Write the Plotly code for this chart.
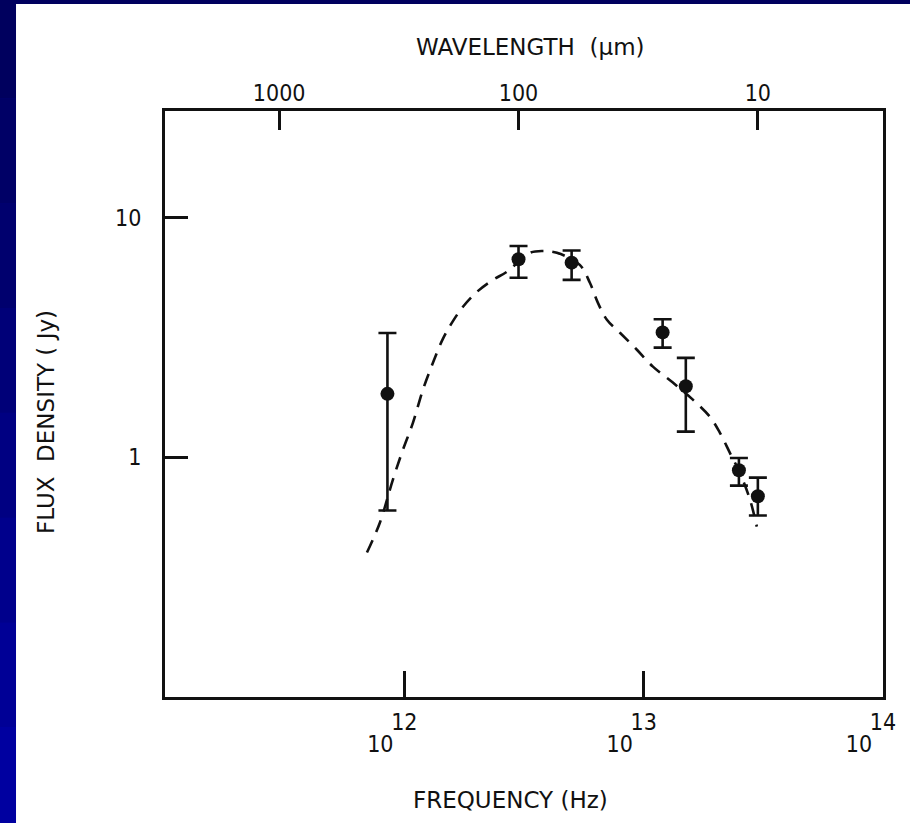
import plotly.graph_objects as go

# ---- data ----
freq_hz = [8.5e11, 3.0e12, 5.0e12, 1.2e13, 1.5e13, 2.5e13, 3.0e13]
flux_jy = [1.84, 6.71, 6.49, 3.32, 1.98, 0.883, 0.688]
flux_hi = [3.30, 7.62, 7.29, 3.77, 2.60, 0.994, 0.823]
flux_lo = [0.60, 5.61, 5.50, 2.87, 1.28, 0.762, 0.572]

model_freq = [6.98e11, 7.91e11, 8.96e11, 9.87e11, 1.087e12, 1.196e12, 1.317e12,
              1.449e12, 1.596e12, 1.758e12, 2.01e12, 2.344e12, 2.68e12, 3.35e12,
              3.79e12, 4.34e12, 5.41e12, 5.96e12, 6.44e12, 7.02e12, 7.96e12,
              9.37e12, 1.093e13, 1.324e13, 1.605e13, 1.89e13, 2.08e13, 2.29e13,
              2.52e13, 2.78e13, 2.97e13]
model_flux = [0.401, 0.535, 0.808, 1.077, 1.395, 1.915, 2.48,
              3.12, 3.70, 4.25, 4.90, 5.50, 5.94, 7.13,
              7.26, 7.13, 6.35, 5.35, 4.41, 3.75, 3.31,
              2.81, 2.39, 2.05, 1.74, 1.477, 1.268, 1.046,
              0.863, 0.667, 0.514]

freq_tickvals = [1e12, 1e13, 1e14]
freq_exp_text = ["12", "13", "14"]
freq_base_text = ["10", "10", "10"]
wave_tickvals = [3e11, 3e12, 3e13]   # nu = c / lambda
wave_ticktext = ["1000", "100", "10"]
flux_tickvals = [1, 10]
flux_ticktext = ["1", "10"]

err_plus = [h - v for h, v in zip(flux_hi, flux_jy)]
err_minus = [v - l for v, l in zip(flux_jy, flux_lo)]

FONT = "DejaVu Sans Condensed, Liberation Sans Narrow, DejaVu Sans, sans-serif"
TFONT = "DejaVu Sans, sans-serif"
INK = "#111111"

fig = go.Figure()

fig.add_trace(go.Scatter(
    x=model_freq, y=model_flux, mode="lines",
    line=dict(color=INK, width=2.6, dash="13px,9px", shape="spline", smoothing=1.0),
    hoverinfo="skip", showlegend=False,
))

fig.add_trace(go.Scatter(
    x=freq_hz, y=flux_jy, mode="markers",
    marker=dict(color=INK, size=14, symbol="circle"),
    error_y=dict(type="data", symmetric=False, array=err_plus, arrayminus=err_minus,
                 color=INK, thickness=2.6, width=9),
    showlegend=False,
))

# invisible traces to activate extra axes
fig.add_trace(go.Scatter(x=[1e12], y=[1], xaxis="x2", mode="markers",
                         marker=dict(opacity=0), hoverinfo="skip", showlegend=False))
fig.add_trace(go.Scatter(x=[1e12], y=[1], xaxis="x3", mode="markers",
                         marker=dict(opacity=0), hoverinfo="skip", showlegend=False))

axis_common = dict(type="log", range=[11, 14], showgrid=False, zeroline=False,
                   tickfont=dict(family=FONT, size=23, color=INK))

fig.update_layout(
    width=910, height=823,
    margin=dict(l=165, r=27, t=111, b=126),
    paper_bgcolor="#00007c",
    plot_bgcolor="white",
    font=dict(family=FONT, color=INK),
    xaxis=dict(**axis_common, tickmode="array", tickvals=freq_tickvals,
               ticktext=freq_exp_text, ticks="inside", ticklen=26, tickwidth=2.6,
               tickcolor=INK, showline=True, linewidth=3.2, linecolor=INK, mirror=True,
               ticklabelstandoff=2),
    xaxis3=dict(**axis_common, overlaying="x", side="bottom", tickmode="array",
                tickvals=freq_tickvals, ticktext=freq_base_text, ticks="",
                showline=False, ticklabelshift=-24, ticklabelstandoff=31),
    xaxis2=dict(**axis_common, overlaying="x", side="top", tickmode="array",
                tickvals=wave_tickvals, ticktext=wave_ticktext, ticks="inside",
                ticklen=19, tickwidth=2.6, tickcolor=INK, showline=False,
                ticklabelstandoff=4),
    yaxis=dict(type="log", range=[-1, 1.445], showgrid=False, zeroline=False,
               tickmode="array", tickvals=flux_tickvals, ticktext=flux_ticktext,
               ticks="inside", ticklen=23, tickwidth=2.6, tickcolor=INK,
               showline=True, linewidth=3.2, linecolor=INK, mirror=True,
               tickfont=dict(family=FONT, size=23, color=INK), ticklabelstandoff=16),
)

# white sheet of the scanned page on the blue slide
shapes = []
bands = ["#00005e", "#000066", "#00006e", "#000078", "#000082", "#00008c", "#000096", "#0000a0"]
y_top, y_bot = 1.2, -0.23
for i, c in enumerate(bands):
    y1 = y_top - (y_top - y_bot) * i / len(bands)
    y0 = y_top - (y_top - y_bot) * (i + 1) / len(bands)
    shapes.append(dict(type="rect", xref="paper", yref="paper", x0=-0.24, x1=1.05,
                       y0=y0, y1=y1, fillcolor=c, line=dict(width=0), layer="below"))
shapes.append(dict(type="rect", xref="paper", yref="paper", x0=-0.2075, x1=1.05,
                   y0=-0.25, y1=1.1826, fillcolor="white", line=dict(width=0),
                   layer="below"))
fig.update_layout(shapes=shapes)

title_font = dict(family=TFONT, size=23, color=INK)
fig.add_annotation(text="WAVELENGTH  (µm)", xref="paper", yref="paper",
                   x=(530 - 165) / 718, y=(697 - 47) / 586, showarrow=False,
                   xanchor="center", yanchor="middle", font=title_font)
fig.add_annotation(text="FREQUENCY (Hz)", xref="paper", yref="paper",
                   x=(510 - 165) / 718, y=(697 - 800) / 586, showarrow=False,
                   xanchor="center", yanchor="middle", font=title_font)
fig.add_annotation(text="FLUX  DENSITY ( Jy)", xref="paper", yref="paper",
                   x=(46 - 165) / 718, y=(697 - 422) / 586, showarrow=False,
                   xanchor="center", yanchor="middle",
                   textangle=-90, font=title_font)

fig.write_html("out.html")
